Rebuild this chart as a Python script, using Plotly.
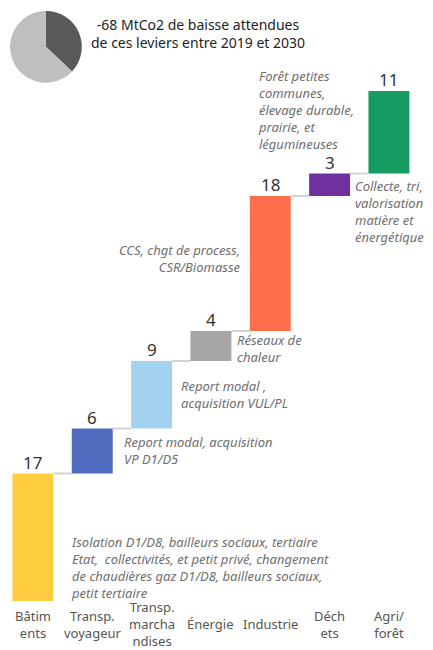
import plotly.graph_objects as go
import numpy as np

categories = ["Bâtiments", "Transp. voyageur", "Transp. marchandises", "Énergie",
              "Industrie", "Déchets", "Agri/forêt"]
tick_labels = ["Bâtim<br>ents", "Transp.<br>voyageur", "Transp.<br>marcha<br>ndises",
               "Énergie", "Industrie", "Déch<br>ets", "Agri/<br>forêt"]
values = [17, 6, 9, 4, 18, 3, 11]
colors = ["#FFCD3F", "#4F6BBE", "#A3D1F0", "#A6A6A6", "#FF6E4A", "#7030A0", "#169B62"]
notes = [
    "Isolation D1/D8, bailleurs sociaux, tertiaire<br>Etat,  collectivités, et petit privé, changement<br>de chaudières gaz D1/D8, bailleurs sociaux,<br>petit tertiaire",
    "Report modal, acquisition<br>VP D1/D5",
    "Report modal ,<br>acquisition VUL/PL",
    "Réseaux de<br>chaleur",
    "CCS, chgt de process,<br>CSR/Biomasse",
    "Collecte, tri,<br>valorisation<br>matière et<br>énergétique",
    "Forêt petites<br>communes,<br>élevage durable,<br>prairie, et<br>légumineuses",
]
pie_values = [37, 63]
pie_colors = ["#595959", "#BFBFBF"]
title_text = "-68 MtCo2 de baisse attendues<br>de ces leviers entre 2019 et 2030"

FONT = "Noto Sans"
x = np.arange(len(categories))
tops = np.cumsum(values)
bases = tops - np.array(values)
W = 0.69

fig = go.Figure()
fig.add_trace(go.Bar(x=x, y=values, base=bases, width=W, marker_color=colors,
                     marker_line_width=0, showlegend=False, hoverinfo="skip"))

# connectors
for i in range(len(values) - 1):
    fig.add_shape(type="line", xref="x", yref="y", x0=x[i] + W / 2, x1=x[i + 1] - W / 2,
                  y0=tops[i], y1=tops[i], line=dict(color="#D3D3D3", width=2), layer="below")

# value labels
for i in range(len(values)):
    fig.add_annotation(x=x[i], y=tops[i], text=str(values[i]), showarrow=False,
                       xref="x", yref="y", yanchor="bottom", yshift=-2,
                       font=dict(family=FONT, size=17, color="#333333"))

# category labels
for i in range(len(values)):
    fig.add_annotation(x=x[i], y=0, text=tick_labels[i], showarrow=False,
                       xref="x", yref="y", yanchor="middle", yshift=-23,
                       font=dict(family=FONT, size=13, color="#555555"))

# notes (offsets relative to bars)
note_pos = [
    (0.607, 4.53, "left"),
    (1.50, 20.13, "left"),
    (2.46, 27.47, "left"),
    (3.41, 33.73, "left"),
    (3.54, 45.73, "right"),
    (5.40, 52.0, "left"),
    (3.76, 65.47, "left"),
]
for txt, (nx, ny, anc) in zip(notes, note_pos):
    fig.add_annotation(x=nx, y=ny, text="<i>" + txt + "</i>", showarrow=False,
                       xref="x", yref="y", xanchor=anc, yanchor="middle", align=anc,
                       font=dict(family=FONT, size=13, color="#6E6E6E"))

fig.add_trace(go.Pie(values=pie_values, marker=dict(colors=pie_colors, line=dict(width=0)),
                     sort=False, direction="clockwise", rotation=0, textinfo="none",
                     hoverinfo="skip", showlegend=False,
                     domain=dict(x=[0.005, 0.180], y=[0.874, 0.995])))

fig.add_annotation(x=190 / 410, y=(593 - 25) / 593, text=title_text, showarrow=False,
                   xref="paper", yref="paper", align="center", xanchor="center", yanchor="middle",
                   font=dict(family=FONT, size=14, color="#222222"))

fig.update_layout(
    width=433, height=650,
    margin=dict(l=0, r=23, t=0, b=57),
    plot_bgcolor="white", paper_bgcolor="white",
    xaxis=dict(range=[-0.42, 6.49], visible=False),
    yaxis=dict(range=[0, 79.07], visible=False),
    font=dict(family=FONT),
)
fig.write_html("out.html")
